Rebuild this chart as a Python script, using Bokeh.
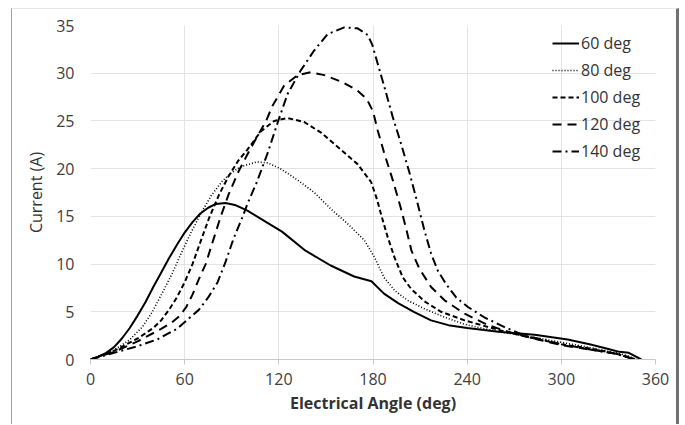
from bokeh.plotting import figure
from bokeh.models import Range1d, FixedTicker
from bokeh.embed import file_html
from bokeh.resources import INLINE

# ---- data ----
angle_60 = [0, 5, 10, 15, 20, 25, 30, 35, 40, 45, 50, 55, 60, 65, 70, 75, 80, 86, 92, 100, 107, 122, 137, 153, 168, 179, 187, 196, 206, 217, 228, 240, 260, 283, 304, 318, 330, 337, 343, 351]
cur_60 = [0, 0.3, 0.7, 1.3, 2.2, 3.3, 4.6, 6.0, 7.6, 9.1, 10.6, 12.0, 13.3, 14.4, 15.3, 15.9, 16.3, 16.4, 16.2, 15.6, 14.9, 13.4, 11.4, 9.85, 8.7, 8.2, 6.9, 5.9, 5.0, 4.1, 3.6, 3.3, 2.9, 2.6, 2.1, 1.6, 1.1, 0.8, 0.7, 0]

angle_80 = [0, 14, 24.5, 33, 39.4, 45.8, 52, 58, 64, 70, 77, 84, 90, 95.7, 106, 113, 121, 132, 142.6, 153, 164, 174.5, 181, 187, 194, 202, 213, 226, 238, 260, 280, 300, 320, 335, 342, 348]
cur_80 = [0, 0.9, 2.0, 3.4, 5.0, 7.0, 9.0, 11.2, 13.3, 15.2, 17.2, 18.7, 19.6, 20.2, 20.7, 20.6, 20.0, 18.8, 17.5, 15.8, 14.2, 12.5, 10.7, 8.6, 7.2, 6.2, 5.3, 4.4, 3.7, 2.9, 2.4, 1.8, 1.2, 0.7, 0.4, 0]

angle_100 = [0, 15, 30, 40, 45, 50, 55, 60, 65, 70, 75.5, 82, 88, 94, 100, 108.5, 117, 125.5, 136, 146.7, 159.5, 170, 178.8, 182.5, 185.5, 189.4, 193.7, 199, 204.3, 212.8, 223.4, 238.4, 260, 280, 300, 320, 335, 342, 347]
cur_100 = [0, 0.9, 2.2, 3.3, 4.1, 5.2, 6.5, 8.1, 10.0, 12.3, 14.8, 17.3, 19.2, 20.8, 22.0, 23.9, 25.0, 25.3, 24.9, 23.8, 22.0, 20.5, 18.6, 16.8, 15.0, 12.8, 10.7, 8.6, 7.4, 6.1, 5.0, 4.1, 3.1, 2.3, 1.6, 1.1, 0.6, 0.3, 0]

angle_120 = [0, 15, 30, 45, 52, 57, 61, 65, 69, 73.4, 78, 83, 88, 94, 100, 106, 111.6, 116, 123.4, 132, 140.4, 149, 160, 170, 176, 180, 183, 187.2, 192.6, 197.5, 201, 204.5, 209.6, 217, 225.6, 238.4, 253.3, 268, 280, 300, 320, 335, 347]
cur_120 = [0, 0.8, 1.9, 3.2, 3.9, 4.6, 5.5, 6.8, 8.4, 10.0, 12.4, 15.0, 17.3, 19.6, 21.5, 23.3, 24.9, 26.6, 28.7, 29.8, 30.1, 29.8, 29.1, 28.2, 27.3, 26.0, 24.0, 21.6, 18.8, 16.0, 13.8, 11.4, 9.5, 7.6, 6.2, 4.8, 3.6, 2.8, 2.3, 1.5, 1.0, 0.6, 0]

angle_140 = [0, 15, 30, 42.5, 55, 62, 69, 75, 81, 86, 91, 97, 100, 106, 112.8, 119, 125.5, 134, 142.6, 151.1, 161.7, 170.2, 176.6, 179.5, 183, 187.2, 192.6, 197.9, 203.2, 208.5, 212.8, 217, 221.3, 226.6, 233, 240.5, 251.1, 263.8, 276.6, 290, 300, 320, 335, 347]
cur_140 = [0, 0.7, 1.4, 2.1, 3.2, 4.2, 5.2, 6.5, 8.1, 10.2, 12.6, 15.0, 16.3, 18.6, 21.6, 24.7, 27.8, 30.3, 32.4, 34.1, 34.8, 34.7, 34.0, 33.0, 31.0, 28.6, 25.4, 22.6, 19.6, 16.3, 13.5, 11.1, 9.3, 7.9, 6.5, 5.5, 4.4, 3.4, 2.5, 2.0, 1.6, 1.0, 0.6, 0]

series_labels = ["60 deg", "80 deg", "100 deg", "120 deg", "140 deg"]
x_ticks = [0, 60, 120, 180, 240, 300, 360]
y_ticks = [0, 5, 10, 15, 20, 25, 30, 35]

FONT = "Open Sans"

p = figure(width=668, height=416, output_backend="svg", toolbar_location=None,
           x_range=Range1d(0, 360), y_range=Range1d(0, 35),
           min_border_left=78, min_border_right=25, min_border_top=16, min_border_bottom=66)
p.styles = {"margin-left": "11px", "margin-top": "8px",
            "border-left": "1px solid #a0a0a0", "border-top": "1px solid #e6e6e6",
            "border-right": "3px solid #707070"}
p.outline_line_color = None
p.background_fill_color = "white"
p.border_fill_color = "white"

styles = [
    dict(line_dash="solid", line_width=2.0),
    dict(line_dash="1 2", line_width=1.6),
    dict(line_dash="5 3", line_width=2.0),
    dict(line_dash="9 6", line_width=2.0),
    dict(line_dash="9 4 2 4", line_width=2.0),
]
data = [(angle_60, cur_60), (angle_80, cur_80), (angle_100, cur_100),
        (angle_120, cur_120), (angle_140, cur_140)]
for (xs, ys), lab, st in zip(data, series_labels, styles):
    p.line(xs, ys, line_color="black", legend_label=lab, line_join="round", **st)

# grid
p.xgrid.ticker = FixedTicker(ticks=x_ticks)
p.ygrid.ticker = FixedTicker(ticks=y_ticks)
p.xgrid.grid_line_color = "#e3e3e3"
p.ygrid.grid_line_color = "#e3e3e3"

# x axis
xa = p.xaxis[0]
xa.ticker = FixedTicker(ticks=x_ticks)
xa.axis_line_color = "#c8c8c8"
xa.major_tick_line_color = "#c8c8c8"
xa.major_tick_out = 5
xa.major_tick_in = 0
xa.minor_tick_line_color = None
xa.major_label_standoff = 8
xa.major_label_text_font = FONT
xa.major_label_text_font_size = "16px"
xa.major_label_text_color = "#404040"
xa.axis_label = "Electrical Angle (deg)"
xa.axis_label_text_font = FONT
xa.axis_label_text_font_size = "16px"
xa.axis_label_text_font_style = "bold"
xa.axis_label_text_color = "#333333"
xa.axis_label_standoff = 4

# y axis
ya = p.yaxis[0]
ya.ticker = FixedTicker(ticks=y_ticks)
ya.axis_line_color = None
ya.major_tick_line_color = None
ya.minor_tick_line_color = None
ya.major_tick_out = 0
ya.major_tick_in = 0
ya.major_label_standoff = 16
ya.major_label_text_font = FONT
ya.major_label_text_font_size = "16px"
ya.major_label_text_color = "#404040"
ya.axis_label = "Current (A)"
ya.axis_label_text_font = FONT
ya.axis_label_text_font_size = "16px"
ya.axis_label_text_font_style = "normal"
ya.axis_label_text_color = "#333333"
ya.axis_label_standoff = 6

# legend
lg = p.legend[0]
lg.location = (462, 197)
lg.background_fill_alpha = 0
lg.border_line_color = None
lg.padding = 0
lg.margin = 0
lg.spacing = 5
lg.glyph_width = 27
lg.glyph_height = 22
lg.label_height = 22
lg.label_standoff = 2
lg.label_text_font = FONT
lg.label_text_font_size = "16px"
lg.label_text_color = "#333333"

open("out.html", "w").write(file_html(p, INLINE))
